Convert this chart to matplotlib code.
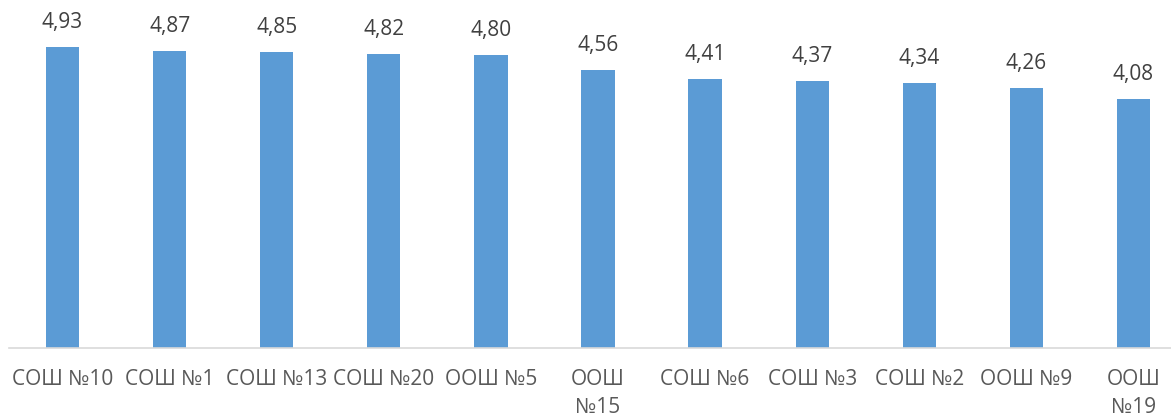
import matplotlib
import matplotlib.pyplot as plt

matplotlib.use('Agg')

schools = ['СОШ №10', 'СОШ №1', 'СОШ №13', 'СОШ №20', 'ООШ №5', 'ООШ\n№15',
           'СОШ №6', 'СОШ №3', 'СОШ №2', 'ООШ №9', 'ООШ\n№19']
scores = [4.93, 4.87, 4.85, 4.82, 4.80, 4.56, 4.41, 4.37, 4.34, 4.26, 4.08]

plt.rcParams['font.family'] = ['Open Sans', 'DejaVu Sans']

W, H = 1171, 418
fig = plt.figure(figsize=(W / 100, H / 100), dpi=100)
# axis spans a bit past the right edge, like the cropped original
left, right = 9, 1187
ax = fig.add_axes([left / W, 70 / H, (right - left) / W, 348 / H])

x = list(range(len(schools)))
bars = ax.bar(x, scores, width=0.31, color='#5B9BD5', zorder=2)
ax.set_xlim(-0.5, len(schools) - 0.5)
ax.set_ylim(0, 5.7)

for b, v in zip(bars, scores):
    ax.annotate(f'{v:.2f}'.replace('.', ','), (b.get_x() + b.get_width() / 2, v),
                xytext=(0, 10), textcoords='offset points', ha='center', va='bottom',
                fontsize=15, color='#404040')

ax.set_xticks(x)
ax.set_xticklabels(schools, fontsize=15, color='#595959', linespacing=1.45)
ax.tick_params(axis='x', length=0, pad=15)
ax.set_yticks([])
for side in ['left', 'right', 'top']:
    ax.spines[side].set_visible(False)
ax.spines['bottom'].set_color('#D9D9D9')
ax.spines['bottom'].set_linewidth(1.2)

fig.savefig('out.png', dpi=100)
plt.close(fig)
